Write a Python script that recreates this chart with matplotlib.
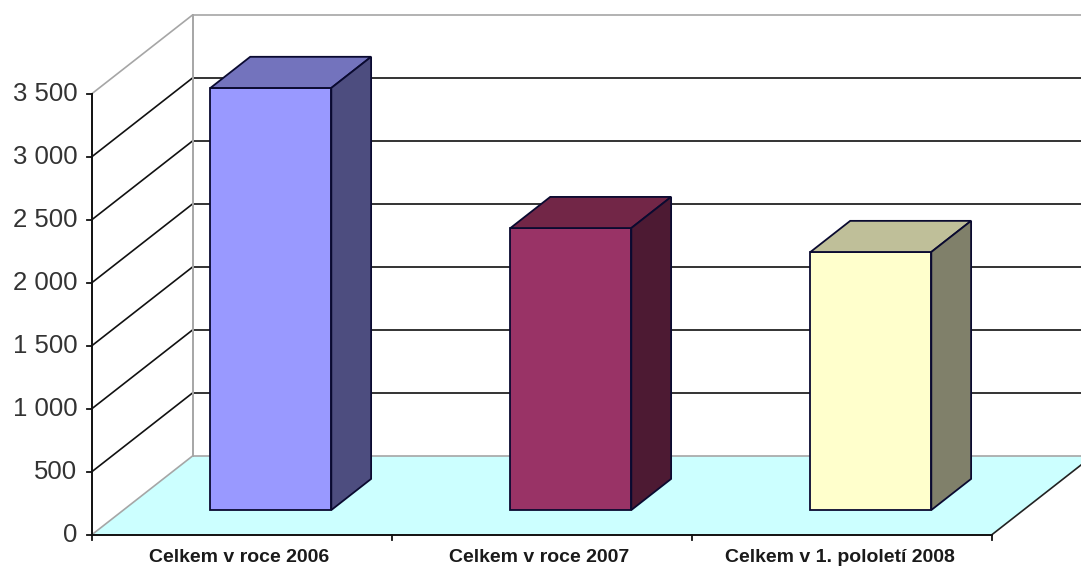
import matplotlib
matplotlib.use("Agg")
import matplotlib.pyplot as plt
from matplotlib.patches import Polygon

categories = ["Celkem v roce 2006", "Celkem v roce 2007", "Celkem v 1. pololetí 2008"]
values = [3350, 2238, 2048]
value_ticks = [0, 500, 1000, 1500, 2000, 2500, 3000, 3500]
tick_labels = ["0", "500", "1 000", "1 500", "2 000", "2 500", "3 000", "3 500"]
front_colors = ["#9999FF", "#993366", "#FFFFCC"]
top_colors = ["#7373BD", "#722647", "#BFBF99"]
side_colors = ["#4D4D7F", "#4D1A33", "#80806A"]

plt.rcParams["font.family"] = ["Liberation Sans", "DejaVu Sans"]
W, H = 1081, 568
fig = plt.figure(figsize=(W / 100, H / 100), dpi=100)
ax = fig.add_axes([0, 0, 1, 1])
ax.set_xlim(0, W)
ax.set_ylim(H, 0)
ax.axis("off")

X0, Y0 = 91.5, 535
CAT_W, PX_PER_UNIT = 300, 0.126
DX, DY = 101, -79


def P(cat, value, depth=0.0):
    """Project category position, value and depth (0..1) to the oblique view."""
    return (X0 + cat * CAT_W + depth * DX, Y0 - value * PX_PER_UNIT + depth * DY)


n = len(categories)
vmax = value_ticks[-1]
GREY = "#A6A6A6"

# floor
ax.add_patch(Polygon([P(0, 0), P(n, 0), P(n, 0, 1), P(0, 0, 1)], fc="#CCFFFF", ec="none", zorder=1))
ax.plot(*zip(P(0, 0), P(0, 0, 1), P(n, 0, 1)), color=GREY, lw=1.2, zorder=2)
ax.plot(*zip(P(n, 0), P(n, 0, 1)), color="#222222", lw=1.2, zorder=2)

# walls and gridlines
for v in value_ticks[1:]:
    c = GREY if v == vmax else "#111111"
    ax.plot(*zip(P(0, v), P(0, v, 1), P(n, v, 1)), color=c, lw=1.2, zorder=2)
ax.plot(*zip(P(0, 0, 1), P(0, vmax, 1)), color=GREY, lw=1.4, zorder=2)

# bars
B_START, B_WIDTH = 0.29, 0.403
D0, D1 = 0.316, 0.71
for i, v in enumerate(values):
    a, b = i + B_START, i + B_START + B_WIDTH
    kw = dict(ec="#0A0A30", lw=1.3, joinstyle="miter", zorder=3)
    ax.add_patch(Polygon([P(a, 0, D0), P(b, 0, D0), P(b, v, D0), P(a, v, D0)], fc=front_colors[i], **kw))
    ax.add_patch(Polygon([P(a, v, D0), P(b, v, D0), P(b, v, D1), P(a, v, D1)], fc=top_colors[i], **kw))
    ax.add_patch(Polygon([P(b, 0, D0), P(b, 0, D1), P(b, v, D1), P(b, v, D0)], fc=side_colors[i], **kw))

# axes
ax.plot(*zip(P(0, 0), P(0, vmax)), color="#111111", lw=1.4, zorder=4)
ax.plot(*zip(P(0, 0), P(n, 0)), color="#111111", lw=1.4, zorder=4)
for v, lab in zip(value_ticks, tick_labels):
    x, y = P(0, v)
    ax.plot([x - 5, x], [y, y], color="#111111", lw=1.3, zorder=4)
    ax.text(x - 14, y, lab, ha="right", va="center", fontsize=18.5, color="#333333")
for i in range(n + 1):
    x, y = P(i, 0)
    ax.plot([x, x], [y, y + 5], color="#111111", lw=1.3, zorder=4)
for i, lab in enumerate(categories):
    x, y = P(i + 0.5, 0)
    ax.text(x - 2, y + 23, lab, ha="center", va="center", fontsize=14, fontweight="bold", color="#1A1A1A")

fig.savefig("out.png", dpi=100)
